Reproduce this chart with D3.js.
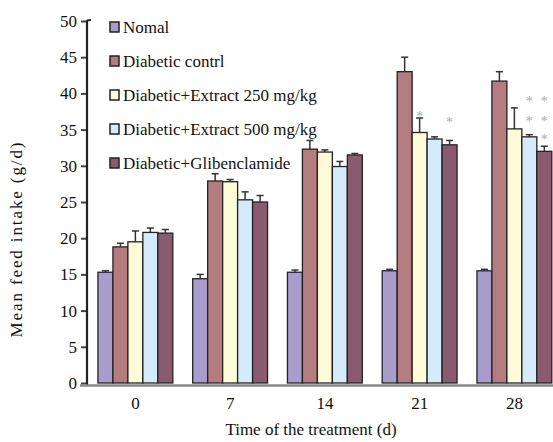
<!DOCTYPE html>
<html><head><meta charset="utf-8">
<script src="https://cdn.jsdelivr.net/npm/d3@7"></script>
<style>
html,body{margin:0;padding:0;background:#fff;}
</style></head>
<body><svg id="chart" width="553" height="442" font-family="'Liberation Serif','Times New Roman','DejaVu Serif',serif"></svg>
<script>
const days = ["0","7","14","21","28"];
const seriesNames = ["Nomal","Diabetic contrl","Diabetic+Extract 250 mg/kg","Diabetic+Extract 500 mg/kg","Diabetic+Glibenclamide"];
const seriesColors = ["#a99dce","#b47c7e","#fdfbd8","#d3ebfa","#8a5b6f"];
const nomal = [15.3,14.4,15.3,15.5,15.5];
const diabeticControl = [18.8,27.9,32.3,43.0,41.7];
const extract250 = [19.5,27.8,31.9,34.6,35.1];
const extract500 = [20.8,25.3,29.9,33.7,34.0];
const glibenclamide = [20.7,25.0,31.5,32.9,32.0];
const errNomal = [0.2,0.6,0.3,0.2,0.2];
const errControl = [0.5,1.0,1.2,2.0,1.3];
const err250 = [1.5,0.3,0.3,2.0,2.9];
const err500 = [0.6,1.1,0.7,0.3,0.3];
const errGlib = [0.5,0.9,0.2,0.6,0.7];
const yTicks = [0,5,10,15,20,25,30,35,40,45,50];
const stars = [
  {day:"21", s:2, v:37.2, t:"*"},
  {day:"21", s:4, v:36.3, t:"*"},
  {day:"28", s:3, v:39.2, t:"*"},
  {day:"28", s:4, v:39.2, t:"*"},
  {day:"28", s:3, v:36.4, t:"*"},
  {day:"28", s:4, v:36.4, t:"*"},
  {day:"28", s:4, v:34.0, t:"*"}
];

const FONT = "'Liberation Serif','Times New Roman','DejaVu Serif',serif";
const values = [nomal, diabeticControl, extract250, extract500, glibenclamide];
const errs = [errNomal, errControl, err250, err500, errGlib];

const svg = d3.select("#chart");
const y = d3.scaleLinear().domain([0,50]).range([383,21]);
const x0 = d3.scaleBand().domain(days).range([88, 561.75]).paddingInner(0.21).paddingOuter(0.105);
const x1 = d3.scaleBand().domain(d3.range(5)).range([0, x0.bandwidth()]);

const rows = [];
days.forEach((d,i)=>values.forEach((arr,s)=>rows.push({day:d, s, v:arr[i], e:errs[s][i]})));

const g = svg.append("g");
g.selectAll("rect.bar").data(rows).join("rect")
  .attr("class","bar")
  .attr("x", r=>x0(r.day)+x1(r.s))
  .attr("y", r=>y(r.v))
  .attr("width", x1.bandwidth())
  .attr("height", r=>y(0)-y(r.v))
  .attr("fill", r=>seriesColors[r.s])
  .attr("stroke","#222").attr("stroke-width",1.3);

const eg = g.selectAll("g.err").data(rows).join("g").attr("class","err")
  .attr("stroke","#333").attr("stroke-width",1.5);
eg.append("line")
  .attr("x1", r=>x0(r.day)+x1(r.s)+x1.bandwidth()/2)
  .attr("x2", r=>x0(r.day)+x1(r.s)+x1.bandwidth()/2)
  .attr("y1", r=>y(r.v)).attr("y2", r=>y(r.v+r.e));
eg.append("line")
  .attr("x1", r=>x0(r.day)+x1(r.s)+x1.bandwidth()/2-3.5)
  .attr("x2", r=>x0(r.day)+x1(r.s)+x1.bandwidth()/2+3.5)
  .attr("y1", r=>y(r.v+r.e)).attr("y2", r=>y(r.v+r.e));

g.selectAll("text.star").data(stars).join("text").attr("class","star")
  .attr("x", d=>x0(d.day)+x1(d.s)+x1.bandwidth()/2)
  .attr("y", d=>y(d.v)+7)
  .attr("text-anchor","middle").attr("font-family",FONT)
  .attr("font-size","14px").attr("fill","#aaa")
  .text(d=>d.t);

const yAxis = d3.axisLeft(y).tickValues(yTicks).tickSize(6).tickPadding(4);
const ya = svg.append("g").attr("transform","translate(87,0)").call(yAxis)
  .attr("font-family",FONT).attr("font-size",17);
ya.select(".domain").remove();
ya.selectAll(".tick line").attr("stroke","#444").attr("stroke-width",2);
ya.selectAll(".tick text").attr("fill","#111");
svg.append("path").attr("d", `M87,${y(0)+3} L87,${y(50)} Q87,${y(50)-1} 91,${y(50)-1}`)
  .attr("fill","none").attr("stroke","#222").attr("stroke-width",2.2);

const xAxis = d3.axisBottom(x0).tickSize(0).tickPadding(12);
const xa = svg.append("g").attr("transform",`translate(0,${y(0)+2})`).call(xAxis)
  .attr("font-family",FONT).attr("font-size",17);
xa.select(".domain").remove();
xa.selectAll(".tick text").attr("fill","#111");
svg.append("line").attr("x1",80).attr("x2",553).attr("y1",y(0)+2.5).attr("y2",y(0)+2.5)
  .attr("stroke","#888").attr("stroke-width",2.5);

svg.append("text").attr("x",311).attr("y",435).attr("text-anchor","middle")
  .attr("font-family",FONT).attr("font-size",17).attr("fill","#111").text("Time of the treatment (d)");
svg.append("text").attr("transform","translate(22,240) rotate(-90)").attr("text-anchor","middle")
  .attr("textLength",195).attr("lengthAdjust","spacing")
  .attr("font-family",FONT).attr("font-size",17).attr("fill","#111").text("Mean feed intake (g/d)");

const lg = svg.append("g");
const ly = d3.scalePoint().domain(d3.range(5)).range([27,163]);
seriesNames.forEach((n,i)=>{
  lg.append("rect").attr("x",110).attr("y",ly(i)-5).attr("width",9).attr("height",10)
    .attr("fill",seriesColors[i]).attr("stroke","#222").attr("stroke-width",1.5);
  lg.append("text").attr("x",123).attr("y",ly(i)+6)
    .attr("font-family",FONT).attr("font-size",17).attr("fill","#111").text(n);
});
</script></body></html>
